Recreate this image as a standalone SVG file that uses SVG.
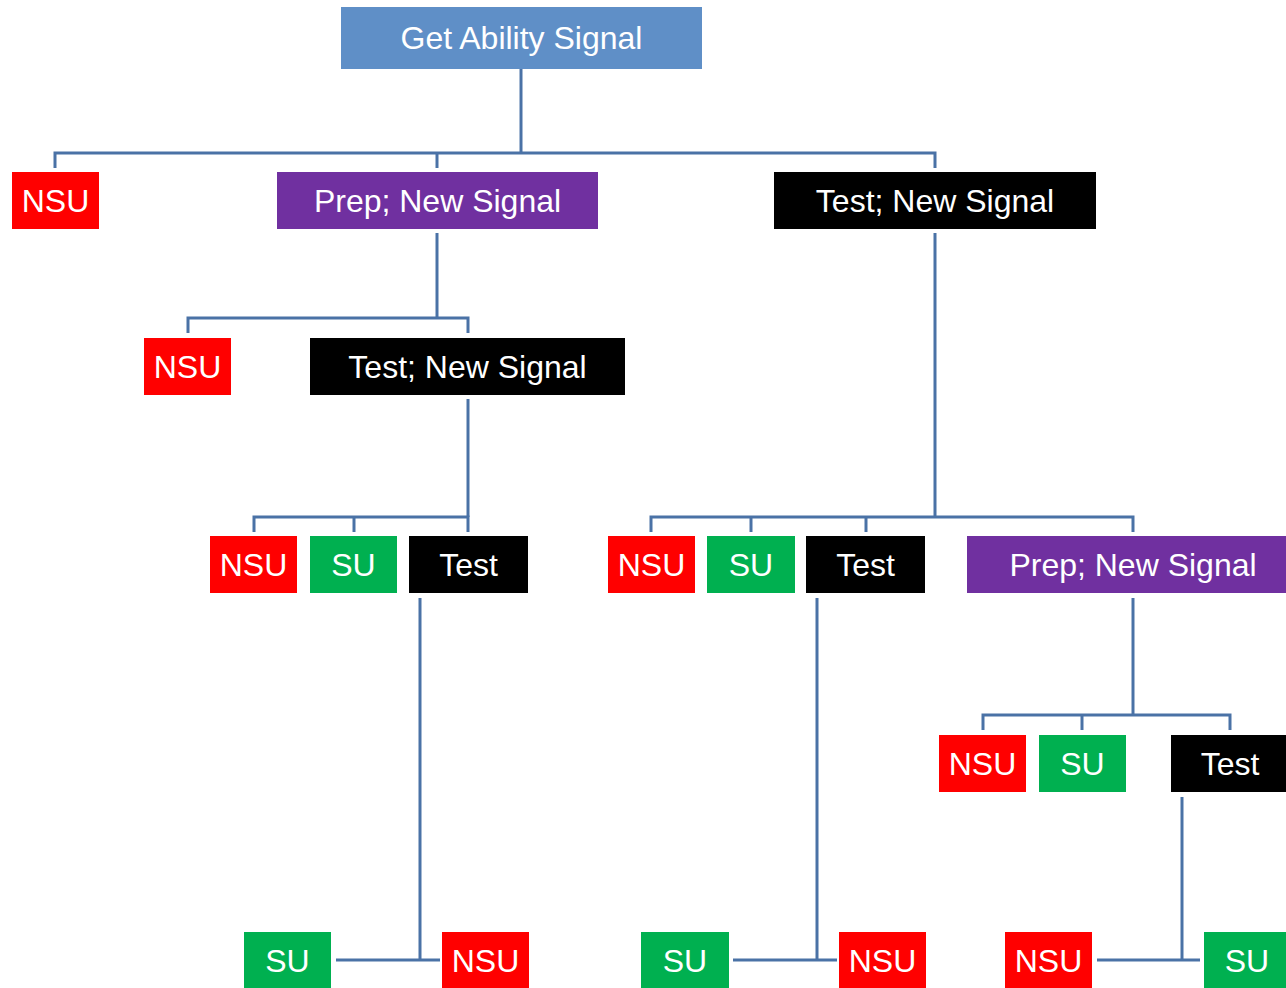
<svg xmlns="http://www.w3.org/2000/svg" width="1286" height="988" viewBox="0 0 1286 988">
  <style>
    .lbl { font-family: "Liberation Sans", Arial, sans-serif; font-size: 32px; fill: #ffffff; text-anchor: middle; }
    .red { fill: #ff0000; }
    .green { fill: #00b050; }
    .black { fill: #000000; }
    .purple { fill: #7030a0; }
    .blue { fill: #5f8fc7; }
    .wire { fill: none; stroke: #4a72a6; stroke-width: 3; stroke-linejoin: miter; }
  </style>
  <rect width="1286" height="988" fill="#ffffff"/>

  <g id="connectors" class="wire">
    <!-- root to level 1 -->
    <path d="M521 69 V153"/>
    <path d="M55 168 V153 H935 V168"/>
    <path d="M437 153 V168"/>
    <!-- prep (left) to its children -->
    <path d="M437 233 V318"/>
    <path d="M188 333 V318 H468 V333"/>
    <!-- test; new signal (left) to its children -->
    <path d="M468 399 V517"/>
    <path d="M254 532 V517 H468 V532"/>
    <path d="M354 517 V532"/>
    <!-- test (left) outcomes -->
    <path d="M420 598 V960"/>
    <path d="M336 960 H440"/>
    <!-- test; new signal (right) to its children -->
    <path d="M935 233 V517"/>
    <path d="M651 532 V517 H1133 V532"/>
    <path d="M751 517 V532"/>
    <path d="M866 517 V532"/>
    <!-- test (middle) outcomes -->
    <path d="M817 598 V960"/>
    <path d="M733 960 H837"/>
    <!-- prep (right) to its children -->
    <path d="M1133 598 V715"/>
    <path d="M983 730 V715 H1230 V730"/>
    <path d="M1082 715 V730"/>
    <!-- test (right) outcomes -->
    <path d="M1182 797 V960"/>
    <path d="M1097 960 H1200"/>
  </g>

  <g id="root">
    <rect class="blue" x="341" y="7" width="361" height="62"/>
    <text class="lbl" x="521.5" y="49">Get Ability Signal</text>
  </g>

  <g id="nsu-1">
    <rect class="red" x="12" y="172" width="87" height="57"/>
    <text class="lbl" x="55.5" y="212">NSU</text>
  </g>
  <g id="prep-1">
    <rect class="purple" x="277" y="172" width="321" height="57"/>
    <text class="lbl" x="437.5" y="212">Prep; New Signal</text>
  </g>
  <g id="test-new-1">
    <rect class="black" x="774" y="172" width="322" height="57"/>
    <text class="lbl" x="935" y="212">Test; New Signal</text>
  </g>

  <g id="nsu-2">
    <rect class="red" x="144" y="338" width="87" height="57"/>
    <text class="lbl" x="187.5" y="378">NSU</text>
  </g>
  <g id="test-new-2">
    <rect class="black" x="310" y="338" width="315" height="57"/>
    <text class="lbl" x="467.5" y="378">Test; New Signal</text>
  </g>

  <g id="nsu-3">
    <rect class="red" x="210" y="536" width="87" height="57"/>
    <text class="lbl" x="253.5" y="576">NSU</text>
  </g>
  <g id="su-3">
    <rect class="green" x="310" y="536" width="87" height="57"/>
    <text class="lbl" x="353.5" y="576">SU</text>
  </g>
  <g id="test-3">
    <rect class="black" x="409" y="536" width="119" height="57"/>
    <text class="lbl" x="468.5" y="576">Test</text>
  </g>

  <g id="nsu-5">
    <rect class="red" x="608" y="536" width="87" height="57"/>
    <text class="lbl" x="651.5" y="576">NSU</text>
  </g>
  <g id="su-5">
    <rect class="green" x="707" y="536" width="88" height="57"/>
    <text class="lbl" x="751" y="576">SU</text>
  </g>
  <g id="test-5">
    <rect class="black" x="806" y="536" width="119" height="57"/>
    <text class="lbl" x="865.5" y="576">Test</text>
  </g>
  <g id="prep-5">
    <rect class="purple" x="967" y="536" width="319" height="57"/>
    <text class="lbl" x="1133" y="576">Prep; New Signal</text>
  </g>

  <g id="nsu-7">
    <rect class="red" x="939" y="735" width="87" height="57"/>
    <text class="lbl" x="982.5" y="775">NSU</text>
  </g>
  <g id="su-7">
    <rect class="green" x="1039" y="735" width="87" height="57"/>
    <text class="lbl" x="1082.5" y="775">SU</text>
  </g>
  <g id="test-7">
    <rect class="black" x="1171" y="735" width="115" height="57"/>
    <text class="lbl" x="1230" y="775">Test</text>
  </g>

  <g id="su-4">
    <rect class="green" x="244" y="932" width="87" height="58"/>
    <text class="lbl" x="287.5" y="972">SU</text>
  </g>
  <g id="nsu-4">
    <rect class="red" x="442" y="932" width="87" height="58"/>
    <text class="lbl" x="485.5" y="972">NSU</text>
  </g>
  <g id="su-6">
    <rect class="green" x="641" y="932" width="88" height="58"/>
    <text class="lbl" x="685" y="972">SU</text>
  </g>
  <g id="nsu-6">
    <rect class="red" x="839" y="932" width="87" height="58"/>
    <text class="lbl" x="882.5" y="972">NSU</text>
  </g>
  <g id="nsu-8">
    <rect class="red" x="1005" y="932" width="87" height="58"/>
    <text class="lbl" x="1048.5" y="972">NSU</text>
  </g>
  <g id="su-8">
    <rect class="green" x="1204" y="932" width="82" height="58"/>
    <text class="lbl" x="1247" y="972">SU</text>
  </g>
</svg>
